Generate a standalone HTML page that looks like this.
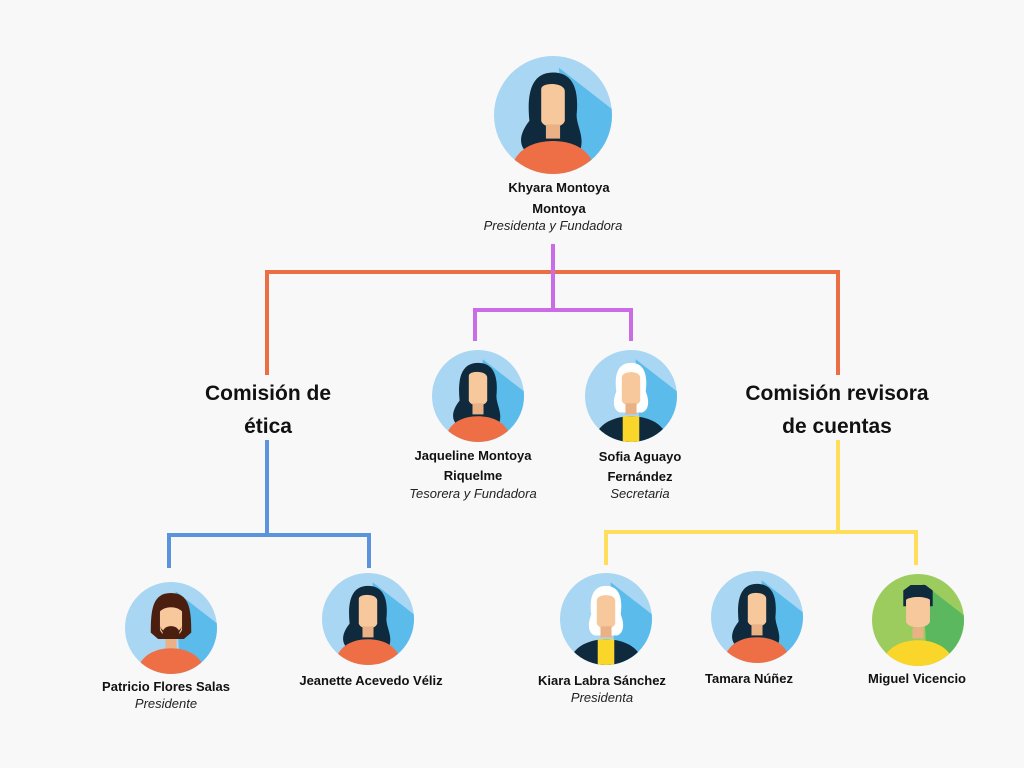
<!DOCTYPE html>
<html><head><meta charset="utf-8"><style>
html,body{margin:0;padding:0;background:#f8f8f8;}
svg{display:block;}
text{font-family:"Liberation Sans",sans-serif;fill:#111;}
.n{font-size:13px;font-weight:bold;text-anchor:middle;}
.r{font-size:13px;font-style:italic;text-anchor:middle;fill:#222;}
.h{font-size:21px;font-weight:bold;text-anchor:middle;}
</style></head><body>
<svg width="1024" height="768" viewBox="0 0 1024 768" xmlns="http://www.w3.org/2000/svg">
<defs>
<clipPath id="c"><circle cx="50" cy="50" r="50"/></clipPath>
<g id="woman">
 <g clip-path="url(#c)">
  <rect width="100" height="100" fill="#a9d6f2"/>
  <polygon points="55,10 100,45 100,100 60,100" fill="#5bbcec"/>
  <path d="M50,14 C30,14 28,35 30,55 C22,65 20,75 28,82 L72,82 C78,70 70,60 70,50 C72,30 68,14 50,14Z" fill="#0f2a3d"/>
  <path d="M40,28 C40,22 60,22 60,30 L60,55 C58,62 42,62 40,55Z" fill="#f7c89b"/>
  <rect x="44" y="58" width="12" height="12" fill="#e9b184"/>
  <path d="M14,100 C16,78 35,72 50,72 C65,72 84,78 86,100Z" fill="#ee6f45"/>
 </g>
</g>
<g id="old">
 <g clip-path="url(#c)">
  <rect width="100" height="100" fill="#a9d6f2"/>
  <polygon points="55,10 100,45 100,100 60,100" fill="#5bbcec"/>
  <path d="M50,14 C34,14 32,30 34,45 C30,55 30,65 38,68 L62,68 C70,65 70,55 66,45 C68,30 66,14 50,14Z" fill="#ffffff"/>
  <path d="M40,30 C40,22 60,22 60,30 L60,55 C58,62 42,62 40,55Z" fill="#f7c89b"/>
  <rect x="44" y="58" width="12" height="12" fill="#e9b184"/>
  <path d="M10,100 C12,78 35,72 50,72 C65,72 88,78 90,100Z" fill="#0f2a3d"/>
  <rect x="41" y="72" width="18" height="30" fill="#fbd62a"/>
 </g>
</g>
<g id="beard">
 <g clip-path="url(#c)">
  <rect width="100" height="100" fill="#a9d6f2"/>
  <polygon points="55,10 100,45 100,100 60,100" fill="#5bbcec"/>
  <path d="M50,12 C30,12 28,30 28,55 L36,62 L64,62 L72,55 C72,30 70,12 50,12Z" fill="#4a1f0f"/>
  <path d="M38,32 C44,26 56,26 62,32 L62,52 C58,62 42,62 38,52Z" fill="#f7c89b"/>
  <path d="M38,48 C42,64 58,64 62,48 C58,58 42,58 38,48Z" fill="#4a1f0f"/>
  <ellipse cx="50" cy="55" rx="9" ry="7" fill="#4a1f0f"/>
  <rect x="44" y="62" width="12" height="10" fill="#e9b184"/>
  <path d="M12,100 C16,78 35,72 50,72 C65,72 84,78 88,100Z" fill="#ee6f45"/>
 </g>
</g>
<g id="man">
 <g clip-path="url(#c)">
  <rect width="100" height="100" fill="#9ccc5d"/>
  <polygon points="55,10 100,45 100,100 60,100" fill="#5cb85f"/>
  <path d="M34,18 L42,12 L58,12 L66,18 L66,35 L34,35Z" fill="#0f2a3d"/>
  <path d="M37,28 C42,24 58,24 63,28 L63,52 C60,60 40,60 37,52Z" fill="#f7c89b"/>
  <rect x="44" y="58" width="12" height="12" fill="#e9b184"/>
  <path d="M10,100 C14,78 35,72 50,72 C65,72 86,78 90,100Z" fill="#fbd62a"/>
 </g>
</g>
</defs>

<!-- connectors -->
<g fill="none" stroke-width="4">
 <path d="M267,375 V272 H838 V375" stroke="#eb6e45"/>
 <path d="M553,244 V312" stroke="#cb6ce6"/>
 <path d="M475,341 V310 H631 V341" stroke="#cb6ce6"/>
 <path d="M267,440 V535 M169,568 V535 H369 V568" stroke="#5b94dc"/>
 <path d="M838,440 V532 M606,565 V532 H916 V565" stroke="#fede5a"/>
</g>

<!-- avatars -->
<use href="#woman" transform="translate(494,56) scale(1.18)"/>
<use href="#woman" transform="translate(432,350) scale(0.92)"/>
<use href="#old" transform="translate(585,350) scale(0.92)"/>
<use href="#beard" transform="translate(125,582) scale(0.92)"/>
<use href="#woman" transform="translate(322,573) scale(0.92)"/>
<use href="#old" transform="translate(560,573) scale(0.92)"/>
<use href="#woman" transform="translate(711,571) scale(0.92)"/>
<use href="#man" transform="translate(872,574) scale(0.92)"/>

<!-- labels -->
<text class="n" x="559" y="192">Khyara Montoya</text>
<text class="n" x="559" y="213">Montoya</text>
<text class="r" x="553" y="230">Presidenta y Fundadora</text>

<text class="h" x="268" y="400">Comisión de</text>
<text class="h" x="268" y="433">ética</text>
<text class="h" x="837" y="400">Comisión revisora</text>
<text class="h" x="837" y="433">de cuentas</text>

<text class="n" x="473" y="460">Jaqueline Montoya</text>
<text class="n" x="473" y="480">Riquelme</text>
<text class="r" x="473" y="498">Tesorera y Fundadora</text>

<text class="n" x="640" y="461">Sofia Aguayo</text>
<text class="n" x="640" y="481">Fernández</text>
<text class="r" x="640" y="498">Secretaria</text>

<text class="n" x="166" y="691">Patricio Flores Salas</text>
<text class="r" x="166" y="708">Presidente</text>
<text class="n" x="371" y="685">Jeanette Acevedo Véliz</text>
<text class="n" x="602" y="685">Kiara Labra Sánchez</text>
<text class="r" x="602" y="702">Presidenta</text>
<text class="n" x="749" y="683">Tamara Núñez</text>
<text class="n" x="917" y="683">Miguel Vicencio</text>
</svg>
</body></html>
